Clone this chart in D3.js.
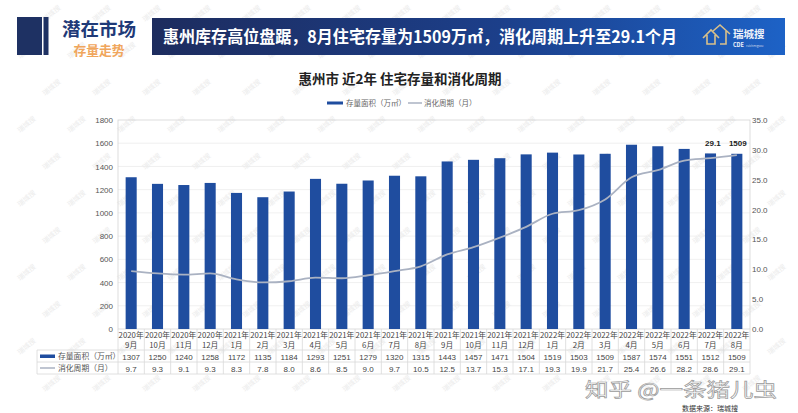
<!DOCTYPE html>
<html><head><meta charset="utf-8">
<script src="https://cdn.jsdelivr.net/npm/d3@7"></script>
<style>
body{margin:0;background:#fff;}
svg{display:block;font-family:"Noto Sans CJK SC","Noto Sans",sans-serif;}
</style></head>
<body>
<svg id="c" width="798" height="413"></svg>
<script>
const months = ["2020年|9月","2020年|10月","2020年|11月","2020年|12月","2021年|1月","2021年|2月","2021年|3月","2021年|4月","2021年|5月","2021年|6月","2021年|7月","2021年|8月","2021年|9月","2021年|10月","2021年|11月","2021年|12月","2022年|1月","2022年|2月","2022年|3月","2022年|4月","2022年|5月","2022年|6月","2022年|7月","2022年|8月"];
const stock = [1307,1250,1240,1258,1172,1135,1184,1293,1251,1279,1320,1315,1443,1457,1471,1504,1519,1503,1509,1587,1574,1551,1512,1509];
const cycle = [9.7,9.3,9.1,9.3,8.3,7.8,8.0,8.6,8.5,9.0,9.7,10.5,12.5,13.7,15.3,17.1,19.3,19.9,21.7,25.4,26.6,28.2,28.6,29.1];
const leftTicks = [0,200,400,600,800,1000,1200,1400,1600,1800];
const rightTicks = [0,5,10,15,20,25,30,35];
const seriesNames = ["存量面积（万㎡）","消化周期（月）"];
const headTitle = "惠州库存高位盘踞，8月住宅存量为1509万㎡，消化周期上升至29.1个月";
const chartTitle = "惠州市 近2年 住宅存量和消化周期";

const svg = d3.select("#c");
const navy = "#1e3163", barCol = "#1f4d9f", lineCol = "#aab2c2";

// faint background watermarks
const wm = svg.append("g").attr("fill","#ececec").attr("font-size",7);
for (let y = 22; y < 400; y += 37) {
  for (let x = 20 + (Math.round(y/37)%2)*25; x < 780; x += 50) {
    wm.append("text").attr("transform",`translate(${x},${y}) rotate(-40)`).text("瑞城搜");
  }
}

// header
svg.append("rect").attr("x",17).attr("y",17).attr("width",25).attr("height",38).attr("fill",navy);
svg.append("rect").attr("x",43.5).attr("y",17).attr("width",5).attr("height",38).attr("fill",navy);
svg.append("text").attr("x",99).attr("y",35.5).attr("text-anchor","middle").attr("font-size",18.5).attr("font-weight","bold").attr("fill","#1f3a78").text("潜在市场");
svg.append("text").attr("x",99).attr("y",55).attr("text-anchor","middle").attr("font-size",12.8).attr("font-weight","bold").attr("fill","#f0a65c").text("存量走势");
const grad = svg.append("defs").append("linearGradient").attr("id","hg").attr("x1","0").attr("x2","1");
grad.append("stop").attr("offset","0").attr("stop-color","#1d2c5e");
grad.append("stop").attr("offset","0.55").attr("stop-color","#1c3f8a");
grad.append("stop").attr("offset","1").attr("stop-color","#1d62c6");
svg.append("rect").attr("x",152).attr("y",18).attr("width",633).attr("height",37).attr("fill","url(#hg)");
svg.append("text").attr("x",163).attr("y",43).attr("font-size",16.5).attr("font-weight","bold").attr("fill","#fff").attr("textLength",514).attr("lengthAdjust","spacingAndGlyphs").text(headTitle);
// logo
const lg = svg.append("g").attr("fill","none").attr("stroke","#d9c08a").attr("stroke-width",1.6);
lg.append("path").attr("d","M703,38 L711,30 L719,38 M707,35 L707,44 L715,44 L715,35");
lg.append("path").attr("d","M713,31 L720,25 L730,34 M726,31 L726,44 L720,44");
svg.append("text").attr("x",733).attr("y",38).attr("font-size",10.5).attr("font-weight","bold").attr("fill","#eef2fa").text("瑞城搜");
svg.append("text").attr("x",733).attr("y",47).attr("font-size",5.5).attr("font-weight","bold").attr("fill","#eef2fa").text("CDE");
svg.append("text").attr("x",746).attr("y",47).attr("font-size",3).attr("fill","#cfd8ea").text("ruichengsou");

// chart title and legend
svg.append("text").attr("x",400).attr("y",84).attr("text-anchor","middle").attr("font-size",13.5).attr("font-weight","bold").attr("fill","#222").text(chartTitle);
svg.append("rect").attr("x",327).attr("y",101.5).attr("width",16).attr("height",3).attr("fill",barCol);
svg.append("text").attr("x",346).attr("y",106).attr("font-size",7.5).attr("fill","#666").text(seriesNames[0]);
svg.append("line").attr("x1",408).attr("x2",422).attr("y1",103).attr("y2",103).attr("stroke",lineCol).attr("stroke-width",1.5);
svg.append("text").attr("x",424).attr("y",106).attr("font-size",7.5).attr("fill","#666").text(seriesNames[1]);

// plot
const L = 118, R = 750, T = 120, B = 329;
const x = d3.scaleBand().domain(months).range([L,R]).paddingInner(0.58).paddingOuter(0.29);
const xb = d3.scaleBand().domain(months).range([L,R]);
const yL = d3.scaleLinear().domain([0,1800]).range([B,T]);
const yR = d3.scaleLinear().domain([0,35]).range([B,T]);

const grid = svg.append("g");
grid.selectAll("line").data(leftTicks.slice(1,-1)).join("line")
  .attr("x1",L).attr("x2",R).attr("y1",d=>yL(d)).attr("y2",d=>yL(d))
  .attr("stroke","#ececec").attr("stroke-width",0.8);

svg.append("rect").attr("x",L).attr("y",T).attr("width",R-L).attr("height",B-T).attr("fill","none").attr("stroke","#d4d4d4").attr("stroke-width",0.8);

const axL = svg.append("g").attr("transform",`translate(${L-5},0)`)
  .call(d3.axisLeft(yL).tickValues(leftTicks).tickSize(0).tickPadding(0).tickFormat(d3.format("d")));
axL.select(".domain").remove();
axL.selectAll("text").attr("font-size",8).attr("fill","#555").attr("font-family","Liberation Sans, Arial, sans-serif");

const axR = svg.append("g").attr("transform",`translate(${R+2},0)`)
  .call(d3.axisRight(yR).tickValues(rightTicks).tickSize(0).tickPadding(0).tickFormat(d3.format(".1f")));
axR.select(".domain").remove();
axR.selectAll("text").attr("font-size",8).attr("fill","#555").attr("font-family","Liberation Sans, Arial, sans-serif");

svg.append("g").selectAll("rect").data(stock).join("rect")
  .attr("x",(d,i)=>x(months[i])).attr("width",x.bandwidth())
  .attr("y",d=>yL(d)).attr("height",d=>B-yL(d)).attr("fill",barCol);

const line = d3.line().x((d,i)=>xb(months[i])+xb.bandwidth()/2).y(d=>yR(d)).curve(d3.curveMonotoneX);
svg.append("path").datum(cycle).attr("d",line).attr("fill","none").attr("stroke",lineCol).attr("stroke-width",1.8);

// last point labels
const li = months.length-1;
const cx = xb(months[li])+xb.bandwidth()/2;
svg.append("text").attr("x",cx-24).attr("y",yR(cycle[li])-9).attr("text-anchor","middle").attr("font-size",8).attr("font-weight","bold").attr("fill","#222").attr("font-family","Liberation Sans, Arial, sans-serif").text(d3.format(".1f")(cycle[li]));
svg.append("text").attr("x",cx+1).attr("y",yL(stock[li])-8).attr("text-anchor","middle").attr("font-size",8).attr("font-weight","bold").attr("fill","#222").attr("font-family","Liberation Sans, Arial, sans-serif").text(stock[li]);

// data table
const tb = svg.append("g");
const rowLines = [350,362,374];
rowLines.forEach(y=>tb.append("line").attr("x1",37).attr("x2",R).attr("y1",y).attr("y2",y).attr("stroke","#d8d8d8").attr("stroke-width",0.8));
tb.append("line").attr("x1",37).attr("x2",37).attr("y1",350).attr("y2",374).attr("stroke","#d8d8d8").attr("stroke-width",0.8);
tb.selectAll(".vl").data(months.concat(["end"])).join("line")
  .attr("x1",(d,i)=>L+i*xb.step()).attr("x2",(d,i)=>L+i*xb.step())
  .attr("y1",B).attr("y2",374).attr("stroke","#d8d8d8").attr("stroke-width",0.8);
const cat = tb.selectAll(".cat").data(months).join("text")
  .attr("text-anchor","middle").attr("font-size",7.8).attr("fill","#444");
cat.append("tspan").attr("x",d=>xb(d)+xb.bandwidth()/2).attr("y",338).text(d=>d.split("|")[0]);
cat.append("tspan").attr("x",d=>xb(d)+xb.bandwidth()/2).attr("y",347.5).text(d=>d.split("|")[1]);
tb.selectAll(".v1").data(stock).join("text")
  .attr("x",(d,i)=>xb(months[i])+xb.bandwidth()/2).attr("y",359.5).attr("text-anchor","middle")
  .attr("font-size",8).attr("fill","#444").attr("font-family","Liberation Sans, Arial, sans-serif").text(d=>d);
tb.selectAll(".v2").data(cycle).join("text")
  .attr("x",(d,i)=>xb(months[i])+xb.bandwidth()/2).attr("y",371.5).attr("text-anchor","middle")
  .attr("font-size",8).attr("fill","#444").attr("font-family","Liberation Sans, Arial, sans-serif").text(d=>d3.format(".1f")(d));
tb.append("rect").attr("x",40).attr("y",354.5).attr("width",15).attr("height",3.5).attr("fill",barCol);
tb.append("text").attr("x",58).attr("y",359).attr("font-size",7.8).attr("fill","#555").text(seriesNames[0]);
tb.append("line").attr("x1",40).attr("x2",55).attr("y1",368).attr("y2",368).attr("stroke",lineCol).attr("stroke-width",1.5);
tb.append("text").attr("x",58).attr("y",371).attr("font-size",7.8).attr("fill","#555").text(seriesNames[1]);

// watermark and source
svg.append("text").attr("x",585).attr("y",396.5).attr("font-size",19).attr("fill","#fff").attr("fill-opacity",0.85)
  .attr("stroke","#9a9a9a").attr("stroke-width",0.7).attr("textLength",192).attr("lengthAdjust","spacingAndGlyphs").text("知乎 @一条猪儿虫");
svg.append("text").attr("x",682).attr("y",410.5).attr("font-size",7).attr("fill","#333").text("数据来源：瑞城搜");
</script>
</body></html>
